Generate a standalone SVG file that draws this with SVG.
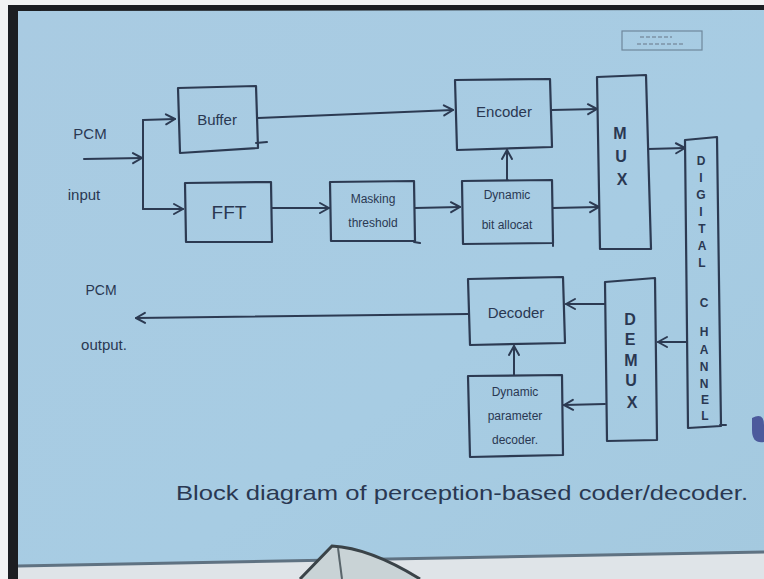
<svg xmlns="http://www.w3.org/2000/svg" width="764" height="579" viewBox="0 0 764 579">
<defs>
<marker id="ah" markerWidth="14" markerHeight="14" refX="11" refY="7" orient="auto" markerUnits="userSpaceOnUse">
<path d="M2,2 L11,7 L2,12" fill="none" stroke="#2c3a52" stroke-width="2" stroke-linejoin="round" stroke-linecap="round"/>
</marker>
<linearGradient id="paper" x1="0" y1="0" x2="1" y2="1">
<stop offset="0" stop-color="#a9cbe2"/>
<stop offset="0.6" stop-color="#a7cce3"/>
<stop offset="1" stop-color="#a4c9df"/>
</linearGradient>
</defs>
<style>
.box{fill:none;stroke:#2c3a52;stroke-width:2.2;stroke-linejoin:round}
.ln{fill:none;stroke:#2c3a52;stroke-width:2;stroke-linecap:round}
.ar{marker-end:url(#ah)}
.t{font-family:"Liberation Sans",Arial,sans-serif;fill:#2a3852;text-anchor:middle}
.s{font-size:12px}
.m{font-size:15px}
.l{font-size:16px;font-weight:bold}
.dc{font-size:12px;font-weight:bold}
</style>
<!-- background -->
<rect x="0" y="0" width="764" height="579" fill="#f2f3f4"/>
<rect x="8" y="5" width="756" height="574" fill="#1c1e22"/>
<path d="M18,11 L764,10 L764,552 L18,566 Z" fill="url(#paper)"/>
<path d="M18,566 L764,552 L764,579 L18,579 Z" fill="#dfe4e8"/>
<path d="M18,566 L764,552" stroke="#5f7282" stroke-width="3" fill="none"/>
<path d="M752,418 Q764,412 764,425 L764,442 Q752,444 752,430 Z" fill="#4c5a9c"/>
<!-- glasses -->
<path d="M300,579 L332,546 Q370,548 420,579" fill="#c9d3d6" stroke="#3a4348" stroke-width="3"/>
<path d="M338,548 L342,579" stroke="#59656b" stroke-width="2" fill="none"/>
<!-- stamp -->
<g id="stamp">
<rect x="622" y="31" width="80" height="19" fill="none" stroke="#6f879c" stroke-width="1.2"/>
<path d="M640,37 L672,37 M637,44 L684,44" stroke="#7d93a6" stroke-width="1.5" stroke-dasharray="4 2" fill="none"/>
</g>
<!-- connectors -->
<g id="connectors">
<path class="ln ar" d="M84,159 L142,158"/>
<path class="ln" d="M143,120 L143,209"/>
<path class="ln ar" d="M143,120 L175,119"/>
<path class="ln ar" d="M143,209 L183,209"/>
<path class="ln ar" d="M258,118 L453,110"/>
<path class="ln ar" d="M272,208 L329,208"/>
<path class="ln ar" d="M415,208 L460,207"/>
<path class="ln ar" d="M507,180 L507,150"/>
<path class="ln ar" d="M553,208 L599,207"/>
<path class="ln ar" d="M552,110 L597,109"/>
<path class="ln ar" d="M648,149 L685,148"/>
<path class="ln ar" d="M686,342 L658,342"/>
<path class="ln ar" d="M605,304 L566,304"/>
<path class="ln ar" d="M605,404 L564,405"/>
<path class="ln ar" d="M514,375 L514,346"/>
<path class="ln ar" d="M468,314 L136,318"/>
</g>
<!-- labels -->
<g id="labels">
<text class="t m" x="90" y="139">PCM</text>
<text class="t m" x="84" y="200">input</text>
<text class="t" x="101" y="295" style="font-size:14px">PCM</text>
<text class="t m" x="104" y="350">output.</text>
<text class="t" x="462" y="500" style="font-size:21px" textLength="572" lengthAdjust="spacingAndGlyphs">Block diagram of perception-based coder/decoder.</text>
</g>
<!-- nodes -->
<g id="buffer">
<path class="box" d="M178,88 L256,86 L258,148 L180,153 Z"/>
<path class="ln" d="M256,143 L267,142"/>
<text class="t m" x="217" y="125">Buffer</text>
</g>
<g id="fft">
<path class="box" d="M185,183 L271,182 L272,242 L186,242 Z"/>
<text class="t" x="229" y="219" style="font-size:19px">FFT</text>
</g>
<g id="masking">
<path class="box" d="M330,182 L414,181 L415,241 L331,241 Z"/>
<path class="ln" d="M414,242 L420,243"/>
<text class="t s" x="373" y="203">Masking</text>
<text class="t s" x="373" y="227">threshold</text>
</g>
<g id="dynamic-bit">
<path class="box" d="M462,181 L552,180 L553,243 L463,244 Z"/>
<path class="ln" d="M553,236 L553,246"/>
<text class="t s" x="507" y="199">Dynamic</text>
<text class="t s" x="507" y="229">bit allocat</text>
</g>
<g id="encoder">
<path class="box" d="M455,80 L550,79 L552,147 L457,150 Z"/>
<text class="t m" x="504" y="117">Encoder</text>
</g>
<g id="mux">
<path class="box" d="M597,77 L646,75 L651,249 L600,249 Z"/>
<text class="t l" x="620" y="139">M</text>
<text class="t l" x="621" y="162">U</text>
<text class="t l" x="622" y="185">X</text>
</g>
<g id="digital-channel">
<path class="box" d="M685,140 L717,137 L721,426 L688,428 Z"/>
<path class="ln" d="M720,425 L726,425"/>
<text class="t dc" x="701" y="165">D</text>
<text class="t dc" x="701" y="182">I</text>
<text class="t dc" x="701" y="199">G</text>
<text class="t dc" x="701" y="216">I</text>
<text class="t dc" x="702" y="233">T</text>
<text class="t dc" x="702" y="250">A</text>
<text class="t dc" x="702" y="267">L</text>
<text class="t dc" x="704" y="307">C</text>
<text class="t dc" x="704" y="336">H</text>
<text class="t dc" x="704" y="354">A</text>
<text class="t dc" x="704" y="371">N</text>
<text class="t dc" x="704" y="388">N</text>
<text class="t dc" x="705" y="404">E</text>
<text class="t dc" x="705" y="420">L</text>
</g>
<g id="demux">
<path class="box" d="M605,282 L655,278 L657,440 L607,441 Z"/>
<text class="t l" x="630" y="325">D</text>
<text class="t l" x="630" y="345">E</text>
<text class="t l" x="631" y="366">M</text>
<text class="t l" x="631" y="386">U</text>
<text class="t l" x="632" y="408">X</text>
</g>
<g id="decoder">
<path class="box" d="M468,279 L563,277 L565,343 L470,345 Z"/>
<text class="t m" x="516" y="318">Decoder</text>
</g>
<g id="dyn-param-decoder">
<path class="box" d="M468,376 L562,375 L563,455 L470,457 Z"/>
<text class="t s" x="515" y="396">Dynamic</text>
<text class="t s" x="515" y="420">parameter</text>
<text class="t s" x="515" y="444">decoder.</text>
</g>
</svg>
